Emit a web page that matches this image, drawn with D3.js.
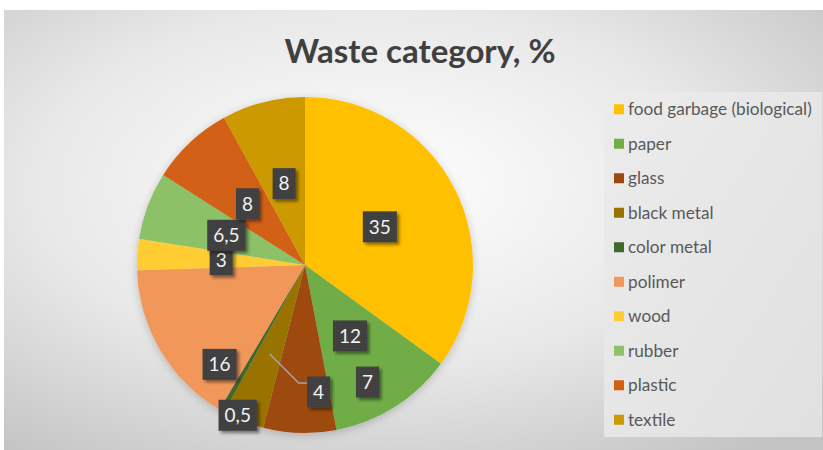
<!DOCTYPE html>
<html>
<head>
<meta charset="utf-8">
<script src="https://cdn.jsdelivr.net/npm/d3@7"></script>
<style>
  body { margin: 0; background: #fff; }
  svg { display: block; font-family: Lato, "Open Sans", sans-serif; }
</style>
</head>
<body>
<div id="chart"></div>
<script>
// ==== Data ====
const categories = ["food garbage (biological)", "paper", "glass", "black metal", "color metal",
                    "polimer", "wood", "rubber", "plastic", "textile"];
const values = [35, 12, 7, 4, 0.5, 16, 3, 6.5, 8, 8];
const valueLabels = ["35", "12", "7", "4", "0,5", "16", "3", "6,5", "8", "8"];
const colors = ["#FFC000", "#70AD47", "#9E480E", "#997300", "#43682B",
                "#F1975A", "#FFCD33", "#8CC168", "#D26012", "#CC9A00"];

// ==== Layout ====
const width = 823, height = 450;
const cx = 305, cy = 265, radius = 168;

const svg = d3.select("#chart")
  .append("svg")
  .attr("width", width)
  .attr("height", height);

const defs = svg.append("defs");

// background gradient (radial, light in the middle)
const bg = defs.append("radialGradient")
  .attr("id", "bg")
  .attr("cx", "45%").attr("cy", "40%").attr("r", "75%");
bg.append("stop").attr("offset", "0%").attr("stop-color", "#ffffff");
bg.append("stop").attr("offset", "55%").attr("stop-color", "#e8e8e8");
bg.append("stop").attr("offset", "100%").attr("stop-color", "#c4c4c4");

const lg = defs.append("linearGradient")
  .attr("id", "legbg").attr("x1", 0).attr("y1", 0).attr("x2", 1).attr("y2", 1);
lg.append("stop").attr("offset", "0%").attr("stop-color", "#ececec");
lg.append("stop").attr("offset", "100%").attr("stop-color", "#e0e0e0");

// dotted texture for the label boxes
const pat = defs.append("pattern")
  .attr("id", "dots").attr("width", 3).attr("height", 3)
  .attr("patternUnits", "userSpaceOnUse");
pat.append("rect").attr("width", 3).attr("height", 3).attr("fill", "#3d3d3d");
pat.append("rect").attr("width", 1).attr("height", 1).attr("fill", "#4e4e4e");
pat.append("rect").attr("x", 1.5).attr("y", 1.5).attr("width", 1).attr("height", 1).attr("fill", "#4a4a4a");

const shadow = defs.append("filter").attr("id", "shadow")
  .attr("x", "-30%").attr("y", "-30%").attr("width", "170%").attr("height", "170%");
shadow.append("feDropShadow")
  .attr("dx", 2.5).attr("dy", 2.5).attr("stdDeviation", 1.8)
  .attr("flood-color", "#000").attr("flood-opacity", 0.45);

const pieShadow = defs.append("filter").attr("id", "pieShadow")
  .attr("x", "-20%").attr("y", "-20%").attr("width", "140%").attr("height", "140%");
pieShadow.append("feDropShadow")
  .attr("dx", 0).attr("dy", 2).attr("stdDeviation", 4)
  .attr("flood-color", "#000").attr("flood-opacity", 0.2);

svg.append("rect")
  .attr("x", 4).attr("y", 10)
  .attr("width", width - 4).attr("height", height - 10)
  .attr("fill", "url(#bg)");

// ==== Title ====
svg.append("text")
  .attr("x", 420).attr("y", 63)
  .attr("text-anchor", "middle")
  .attr("font-size", 33)
  .attr("font-weight", "bold")
  .attr("fill", "#404040")
  .text("Waste category, %");

// ==== Pie ====
const pie = d3.pie().sort(null).value(d => d);
const arcs = pie(values);
const arc = d3.arc().innerRadius(0).outerRadius(radius);

const g = svg.append("g").attr("transform", `translate(${cx},${cy})`);

g.append("g").attr("filter", "url(#pieShadow)")
  .selectAll("path")
  .data(arcs)
  .join("path")
  .attr("d", arc)
  .attr("fill", (d, i) => colors[i]);

// label placement: centroid at ~half radius, with a few labels pushed out
// the way the original "best fit" did it (angle in turns, radius as fraction)
const labelArc = d3.arc().innerRadius(radius * 0.5).outerRadius(radius * 0.5);
const moved = {
  2: { turn: 0.422, r: 0.79 },
  3: { turn: 0.483, r: 0.76 },
  4: { turn: 0.567, r: 0.98 },
  5: { turn: 0.613, r: 0.78 }
};
function labelPos(d, i) {
  if (moved[i]) {
    const a = moved[i].turn * 2 * Math.PI;
    const r = moved[i].r * radius;
    return [r * Math.sin(a), -r * Math.cos(a)];
  }
  return labelArc.centroid(d);
}

// leader line for the black metal label
const bm = arcs[3];
const bmAnchor = d3.arc().innerRadius(radius * 0.57).outerRadius(radius * 0.57).centroid(bm);
const bmLabel = labelPos(bm, 3);
g.append("polyline")
  .attr("points", [bmAnchor, [bmLabel[0] - 20, bmLabel[1] - 9], [bmLabel[0] - 11, bmLabel[1] - 9]]
    .map(p => p.join(",")).join(" "))
  .attr("fill", "none")
  .attr("stroke", "#a6a6a6")
  .attr("stroke-width", 1.5);

const labels = g.selectAll(".lbl")
  .data(arcs)
  .join("g")
  .attr("class", "lbl")
  .attr("transform", (d, i) => `translate(${labelPos(d, i)})`);

labels.append("text")
  .attr("text-anchor", "middle")
  .attr("dy", "0.36em")
  .attr("font-size", 19)
  .attr("fill", "#f2f2f2")
  .text((d, i) => valueLabels[i])
  .each(function () {
    const b = this.getBBox();
    d3.select(this.parentNode).insert("rect", "text")
      .attr("x", -b.width / 2 - 6)
      .attr("y", -15.5)
      .attr("width", b.width + 12)
      .attr("height", 31)
      .attr("fill", "url(#dots)")
      .attr("filter", "url(#shadow)");
  });

// ==== Legend ====
const legend = svg.append("g").attr("transform", "translate(604,92)");
legend.append("rect")
  .attr("width", 218).attr("height", 345)
  .attr("fill", "url(#legbg)");

const legendY = d3.scaleBand()
  .domain(categories)
  .range([0, 345])
  .paddingInner(0);

const items = legend.selectAll(".item")
  .data(categories)
  .join("g")
  .attr("class", "item")
  .attr("transform", d => `translate(0,${legendY(d) + legendY.bandwidth() / 2})`);

items.append("rect")
  .attr("x", 10).attr("y", -5)
  .attr("width", 10).attr("height", 10)
  .attr("fill", (d, i) => colors[i]);

items.append("text")
  .attr("x", 24)
  .attr("dy", "0.35em")
  .attr("font-size", 17.2)
  .attr("fill", "#595959")
  .text(d => d);
</script>
</body>
</html>
